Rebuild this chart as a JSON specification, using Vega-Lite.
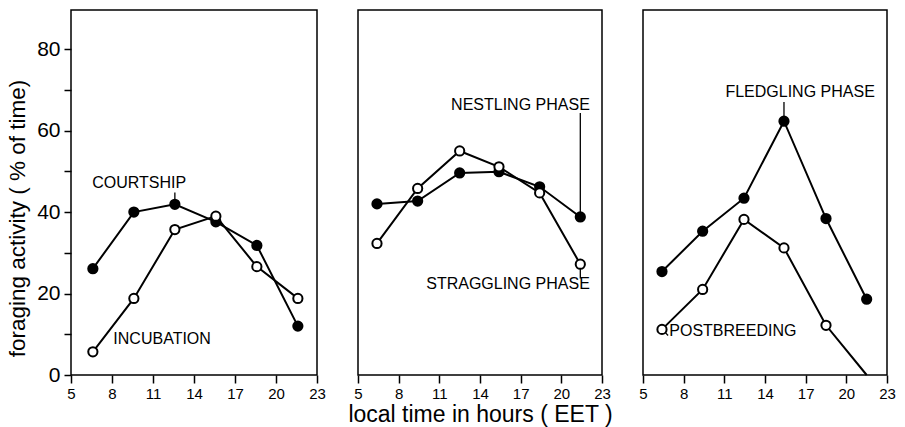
{
  "$schema": "https://vega.github.io/schema/vega-lite/v6.json",
  "padding": {"left": 5, "top": 9, "right": 5, "bottom": 2},
  "background": "white",
  "bounds": "flush",
  "spacing": 41,
  "config": {
    "font": "Liberation Sans",
    "view": {"stroke": "black", "strokeWidth": 1.5},
    "axis": {"grid": false, "domain": false, "tickColor": "black", "tickWidth": 1.5, "labelColor": "black", "titleColor": "black", "labelFont": "Liberation Sans", "titleFont": "Liberation Sans", "titleFontWeight": "normal"}
  },
  "datasets": {
    "pts": [
      {"panel": 1, "kind": "filled", "series": "courtship", "time": 6.6, "value": 26.1},
      {"panel": 1, "kind": "filled", "series": "courtship", "time": 9.6, "value": 40.0},
      {"panel": 1, "kind": "filled", "series": "courtship", "time": 12.6, "value": 41.9},
      {"panel": 1, "kind": "filled", "series": "courtship", "time": 15.6, "value": 37.6},
      {"panel": 1, "kind": "filled", "series": "courtship", "time": 18.6, "value": 31.8},
      {"panel": 1, "kind": "filled", "series": "courtship", "time": 21.6, "value": 12.0},
      {"panel": 1, "kind": "open", "series": "incubation", "time": 6.6, "value": 5.7},
      {"panel": 1, "kind": "open", "series": "incubation", "time": 9.6, "value": 18.8},
      {"panel": 1, "kind": "open", "series": "incubation", "time": 12.6, "value": 35.7},
      {"panel": 1, "kind": "open", "series": "incubation", "time": 15.6, "value": 39.0},
      {"panel": 1, "kind": "open", "series": "incubation", "time": 18.6, "value": 26.6},
      {"panel": 1, "kind": "open", "series": "incubation", "time": 21.6, "value": 18.8},
      {"panel": 2, "kind": "filled", "series": "nestling", "time": 6.4, "value": 42.0},
      {"panel": 2, "kind": "filled", "series": "nestling", "time": 9.4, "value": 42.7},
      {"panel": 2, "kind": "filled", "series": "nestling", "time": 12.5, "value": 49.6},
      {"panel": 2, "kind": "filled", "series": "nestling", "time": 15.4, "value": 49.9},
      {"panel": 2, "kind": "filled", "series": "nestling", "time": 18.4, "value": 46.2},
      {"panel": 2, "kind": "filled", "series": "nestling", "time": 21.4, "value": 38.8},
      {"panel": 2, "kind": "open", "series": "straggling", "time": 6.4, "value": 32.3},
      {"panel": 2, "kind": "open", "series": "straggling", "time": 9.4, "value": 45.8},
      {"panel": 2, "kind": "open", "series": "straggling", "time": 12.5, "value": 55.0},
      {"panel": 2, "kind": "open", "series": "straggling", "time": 15.4, "value": 51.1},
      {"panel": 2, "kind": "open", "series": "straggling", "time": 18.4, "value": 44.7},
      {"panel": 2, "kind": "open", "series": "straggling", "time": 21.4, "value": 27.2},
      {"panel": 3, "kind": "filled", "series": "fledgling", "time": 6.4, "value": 25.4},
      {"panel": 3, "kind": "filled", "series": "fledgling", "time": 9.4, "value": 35.3},
      {"panel": 3, "kind": "filled", "series": "fledgling", "time": 12.45, "value": 43.4},
      {"panel": 3, "kind": "filled", "series": "fledgling", "time": 15.4, "value": 62.3},
      {"panel": 3, "kind": "filled", "series": "fledgling", "time": 18.5, "value": 38.4},
      {"panel": 3, "kind": "filled", "series": "fledgling", "time": 21.5, "value": 18.6},
      {"panel": 3, "kind": "open", "series": "postbreeding", "time": 6.4, "value": 11.2},
      {"panel": 3, "kind": "open", "series": "postbreeding", "time": 9.4, "value": 21.0},
      {"panel": 3, "kind": "open", "series": "postbreeding", "time": 12.45, "value": 38.2},
      {"panel": 3, "kind": "open", "series": "postbreeding", "time": 15.4, "value": 31.2},
      {"panel": 3, "kind": "open", "series": "postbreeding", "time": 18.5, "value": 12.2},
      {"panel": 3, "kind": "open", "series": "postbreeding", "time": 21.5, "value": 0}
    ],
    "labels": [
      {"panel": 1, "text": "COURTSHIP", "time": 6.55, "value": 47.1, "side": "left"},
      {"panel": 1, "text": "INCUBATION", "time": 8.1, "value": 8.8, "side": "left"},
      {"panel": 2, "text": "NESTLING PHASE", "time": 22.1, "value": 66.3, "side": "right"},
      {"panel": 2, "text": "STRAGGLING PHASE", "time": 22.1, "value": 22.4, "side": "right"},
      {"panel": 3, "text": "FLEDGLING PHASE", "time": 22.1, "value": 69.5, "side": "right"},
      {"panel": 3, "text": "POSTBREEDING", "time": 6.94, "value": 10.8, "side": "left"}
    ],
    "leaders": [
      {"panel": 1, "time": 12.6, "value": 41.9, "time2": 12.6, "value2": 44.8},
      {"panel": 2, "time": 21.4, "value": 38.8, "time2": 21.4, "value2": 64.3},
      {"panel": 2, "time": 21.4, "value": 27.2, "time2": 21.4, "value2": 23.7},
      {"panel": 3, "time": 15.4, "value": 62.3, "time2": 15.4, "value2": 67.0},
      {"panel": 3, "time": 6.6, "value": 10.6, "time2": 6.85, "value2": 9.7}
    ]
  },
  "hconcat": [
    {
      "width": 246, "height": 365,
      "encoding": {
        "x": {"field": "time", "type": "quantitative", "scale": {"domain": [5, 23], "nice": false, "zero": false},
              "axis": {"values": [5, 8, 11, 14, 17, 20, 23], "title": null, "tickSize": 8, "labelFontSize": 15, "labelPadding": 3, "labelFlush": false}},
        "y": {"field": "value", "type": "quantitative", "scale": {"domain": [0, 89.6], "nice": false},
              "axis": {"values": [0, 10, 20, 30, 40, 50, 60, 70, 80], "labelExpr": "datum.value % 20 == 0 ? datum.label : ''", "title": "foraging activity ( % of time)", "titleFontSize": 22.5, "titleY": 208, "labelFontSize": 21, "tickSize": 7, "labelPadding": 4, "titlePadding": 7, "labelFlush": false}}
      },
      "layer": [
        {"data": {"name": "pts"}, "transform": [{"filter": "datum.panel == 1"}], "mark": {"type": "line", "color": "black", "strokeWidth": 2}, "encoding": {"detail": {"field": "series"}}},
        {"data": {"name": "leaders"}, "transform": [{"filter": "datum.panel == 1"}], "mark": {"type": "rule", "color": "black", "strokeWidth": 1.3}, "encoding": {"x2": {"field": "time2"}, "y2": {"field": "value2"}}},
        {"data": {"name": "pts"}, "transform": [{"filter": "datum.panel == 1"}], "mark": {"type": "point", "shape": "circle", "filled": true, "stroke": "black", "strokeWidth": 2, "size": 85, "opacity": 1},
         "encoding": {"fill": {"field": "kind", "type": "nominal", "scale": {"domain": ["filled", "open"], "range": ["black", "white"]}, "legend": null}}},
        {"data": {"name": "labels"}, "transform": [{"filter": "datum.panel == 1"}], "mark": {"type": "text", "fontSize": 16, "color": "black", "align": "left", "baseline": "middle"}, "encoding": {"text": {"field": "text"}}}
      ]
    },
    {
      "width": 244, "height": 365,
      "encoding": {
        "x": {"field": "time", "type": "quantitative", "scale": {"domain": [5, 23], "nice": false, "zero": false},
              "axis": {"values": [5, 8, 11, 14, 17, 20, 23], "title": "local time in hours ( EET )", "titleFontSize": 23, "titlePadding": 2, "tickSize": 8, "labelFontSize": 15, "labelPadding": 3, "labelFlush": false}},
        "y": {"field": "value", "type": "quantitative", "scale": {"domain": [0, 89.6], "nice": false}, "axis": null}
      },
      "layer": [
        {"data": {"name": "pts"}, "transform": [{"filter": "datum.panel == 2"}], "mark": {"type": "line", "color": "black", "strokeWidth": 2}, "encoding": {"detail": {"field": "series"}}},
        {"data": {"name": "leaders"}, "transform": [{"filter": "datum.panel == 2"}], "mark": {"type": "rule", "color": "black", "strokeWidth": 1.3}, "encoding": {"x2": {"field": "time2"}, "y2": {"field": "value2"}}},
        {"data": {"name": "pts"}, "transform": [{"filter": "datum.panel == 2"}], "mark": {"type": "point", "shape": "circle", "filled": true, "stroke": "black", "strokeWidth": 2, "size": 85, "opacity": 1},
         "encoding": {"fill": {"field": "kind", "type": "nominal", "scale": {"domain": ["filled", "open"], "range": ["black", "white"]}, "legend": null}}},
        {"data": {"name": "labels"}, "transform": [{"filter": "datum.panel == 2"}], "mark": {"type": "text", "fontSize": 16, "color": "black", "align": "right", "baseline": "middle"}, "encoding": {"text": {"field": "text"}}}
      ]
    },
    {
      "width": 244, "height": 365,
      "encoding": {
        "x": {"field": "time", "type": "quantitative", "scale": {"domain": [5, 23], "nice": false, "zero": false},
              "axis": {"values": [5, 8, 11, 14, 17, 20, 23], "title": null, "tickSize": 8, "labelFontSize": 15, "labelPadding": 3, "labelFlush": false}},
        "y": {"field": "value", "type": "quantitative", "scale": {"domain": [0, 89.6], "nice": false}, "axis": null}
      },
      "layer": [
        {"data": {"name": "pts"}, "transform": [{"filter": "datum.panel == 3"}], "mark": {"type": "line", "color": "black", "strokeWidth": 2}, "encoding": {"detail": {"field": "series"}}},
        {"data": {"name": "leaders"}, "transform": [{"filter": "datum.panel == 3"}], "mark": {"type": "rule", "color": "black", "strokeWidth": 1.3}, "encoding": {"x2": {"field": "time2"}, "y2": {"field": "value2"}}},
        {"data": {"name": "pts"}, "transform": [{"filter": "datum.panel == 3 && datum.value > 0"}], "mark": {"type": "point", "shape": "circle", "filled": true, "stroke": "black", "strokeWidth": 2, "size": 85, "opacity": 1},
         "encoding": {"fill": {"field": "kind", "type": "nominal", "scale": {"domain": ["filled", "open"], "range": ["black", "white"]}, "legend": null}}},
        {"data": {"name": "labels"}, "transform": [{"filter": "datum.panel == 3 && datum.side == 'left'"}], "mark": {"type": "text", "fontSize": 16, "color": "black", "align": "left", "baseline": "middle"}, "encoding": {"text": {"field": "text"}}},
        {"data": {"name": "labels"}, "transform": [{"filter": "datum.panel == 3 && datum.side == 'right'"}], "mark": {"type": "text", "fontSize": 16, "color": "black", "align": "right", "baseline": "middle"}, "encoding": {"text": {"field": "text"}}}
      ]
    }
  ]
}
